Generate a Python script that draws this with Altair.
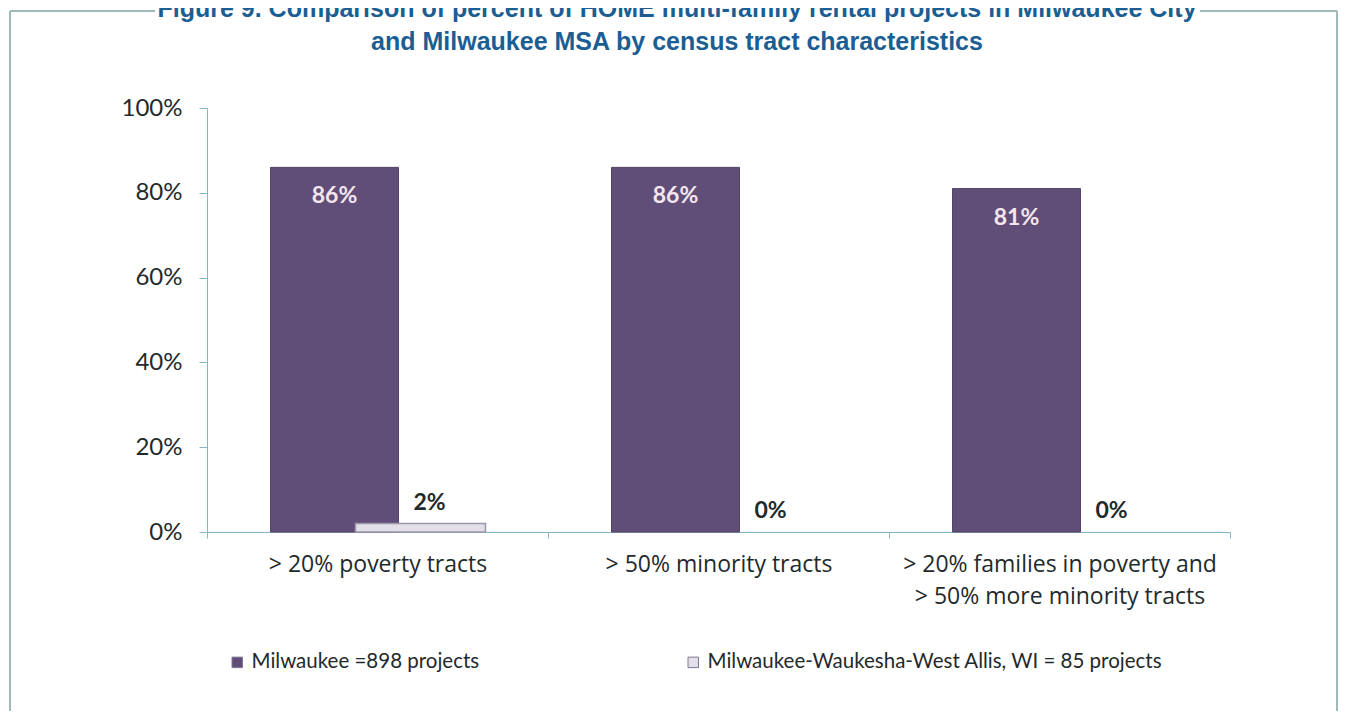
import altair as alt
import pandas as pd

categories = [
    "> 20% poverty tracts",
    "> 50% minority tracts",
    "> 20% families in poverty and\n> 50% more minority tracts",
]
series = ["Milwaukee =898 projects", "Milwaukee-Waukesha-West Allis, WI = 85 projects"]
milwaukee = [86, 86, 81]
msa = [2, 0, 0]
y_ticks = [0, 20, 40, 60, 80, 100]
title_lines = [
    "Figure 9. Comparison of percent of HOME multi-family rental projects in Milwaukee City",
    "and Milwaukee MSA by census tract characteristics",
]

rows = []
for c, v in zip(categories, milwaukee):
    rows.append({"cat": c, "series": series[0], "value": v, "label": f"{v}%"})
for c, v in zip(categories, msa):
    rows.append({"cat": c, "series": series[1], "value": v, "label": f"{v}%"})
df = pd.DataFrame(rows)

PURPLE = "#614e78"
LIGHT = "#e2dfe9"
AXIS = "#86b5c8"
TEXT = "#1f2a2c"
FONT = "Lato"

x_enc = alt.X(
    "cat:N",
    sort=categories,
    title=None,
    scale=alt.Scale(paddingInner=0, paddingOuter=0),
    axis=alt.Axis(
        tickBand="extent",
        labelAngle=0,
        labelExpr="split(datum.label, '\\n')",
        labelFont="Open Sans",
        labelFontSize=23,
        labelColor=TEXT,
        labelPadding=15,
        labelLineHeight=32,
        labelLimit=500,
        tickSize=6,
        tickColor=AXIS,
        domainColor=AXIS,
        labelBaseline="top",
    ),
)
y_enc = alt.Y(
    "value:Q",
    title=None,
    scale=alt.Scale(domain=[0, 100]),
    axis=alt.Axis(
        values=y_ticks,
        labelExpr="datum.value + '%'",
        labelFont=FONT,
        labelFontSize=24,
        labelColor=TEXT,
        labelPadding=17,
        tickSize=8,
        tickColor=AXIS,
        domainColor=AXIS,
        grid=False,
    ),
)
color_enc = alt.Color(
    "series:N",
    scale=alt.Scale(domain=series, range=[PURPLE, LIGHT]),
    legend=alt.Legend(
        title=None,
        orient="none",
        legendX=20,
        legendY=544,
        direction="horizontal",
        symbolType="square",
        symbolSize=110,
        symbolStrokeColor="#7d7890",
        symbolStrokeWidth=1,
        labelFont=FONT,
        labelFontSize=20.5,
        labelColor=TEXT,
        columnPadding=203,
        labelLimit=600,
    ),
)

base = alt.Chart(df)

bars_m = base.transform_filter(alt.datum.series == series[0]).mark_bar(
    width=128, xOffset=-43, stroke="#564468", strokeWidth=1
).encode(x=x_enc, y=y_enc, color=color_enc)

bars_s = base.transform_filter(alt.datum.series == series[1]).mark_bar(
    width=130, xOffset=43, stroke="#9b97a8", strokeWidth=1.5
).encode(
    x=x_enc, y=y_enc, color=color_enc,
    strokeOpacity=alt.condition(alt.datum.value > 0, alt.value(1), alt.value(0)),
)

labels_m = base.transform_filter(alt.datum.series == series[0]).mark_text(
    xOffset=-43, dy=18, baseline="top", font=FONT, fontSize=23, fontWeight="bold",
    color="#f4e6ee",
).encode(x=x_enc, y=y_enc, text="label:N")

labels_s = base.transform_filter(alt.datum.series == series[1]).mark_text(
    xOffset=52, dy=-9, baseline="bottom", font=FONT, fontSize=23, fontWeight="bold",
    color=TEXT,
).encode(x=x_enc, y=y_enc, text="label:N")

title_df = pd.DataFrame({"t": title_lines, "line": [0, 1]})
tb = alt.Chart(title_df)
title_style = dict(font="Liberation Sans", fontSize=25, fontWeight="bold",
                   color="#1b5e94", align="center", baseline="alphabetic")
title1 = tb.transform_filter(alt.datum.line == 0).mark_text(**title_style).encode(
    text="t:N", x=alt.value(470), y=alt.value(-91))
title2 = tb.transform_filter(alt.datum.line == 1).mark_text(**title_style).encode(
    text="t:N", x=alt.value(470), y=alt.value(-58))

frame_df = pd.DataFrame({"a": [0]})
fb = alt.Chart(frame_df)
frame_color = "#9dbab8"
frame = alt.layer(
    fb.mark_rule(color=frame_color, strokeWidth=2).encode(
        x=alt.value(-197), y=alt.value(-97), y2=alt.value(603)),
    fb.mark_rule(color=frame_color, strokeWidth=2).encode(
        x=alt.value(1130), y=alt.value(-97), y2=alt.value(603)),
    fb.mark_rule(color=frame_color, strokeWidth=2).encode(
        x=alt.value(-197), x2=alt.value(-52), y=alt.value(-97)),
    fb.mark_rule(color=frame_color, strokeWidth=2).encode(
        x=alt.value(993), x2=alt.value(1130), y=alt.value(-97)),
)

chart = alt.layer(bars_m, bars_s, labels_m, labels_s, title1, title2, frame).properties(
    width=1023,
    height=424,
    background="white",
    padding={"left": 199, "top": 100, "right": 110, "bottom": 179},
    autosize=alt.AutoSizeParams(type="none"),
).configure_view(strokeWidth=0, stroke="transparent")

chart.save("out.html", embed_options={"renderer": "svg", "actions": False})
